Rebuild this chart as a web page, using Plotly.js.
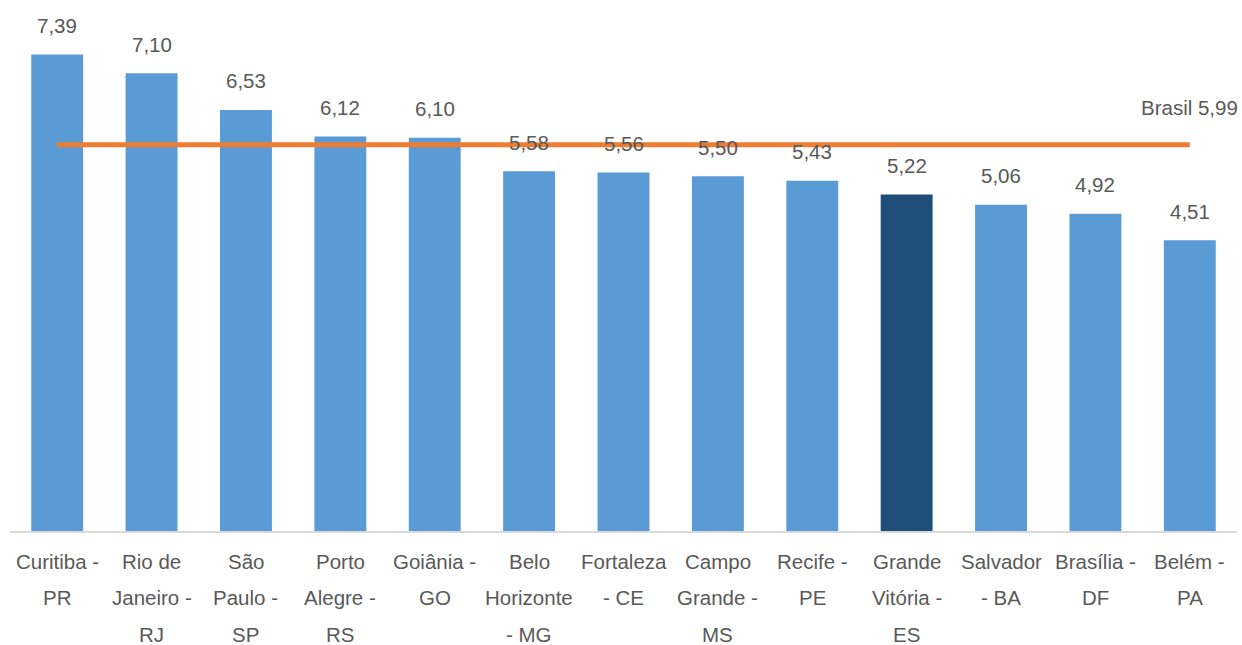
<!DOCTYPE html>
<html>
<head>
<meta charset="utf-8">
<script src="https://cdn.plot.ly/plotly-3.0.1.min.js"></script>
<style>html,body{margin:0;padding:0;background:#fff;}#chart{width:1242px;height:645px;}</style>
</head>
<body>
<div id="chart"></div>
<script>
const labelLines = [
  ["Curitiba -", "PR"],
  ["Rio de", "Janeiro -", "RJ"],
  ["São", "Paulo -", "SP"],
  ["Porto", "Alegre -", "RS"],
  ["Goiânia -", "GO"],
  ["Belo", "Horizonte", "- MG"],
  ["Fortaleza", "- CE"],
  ["Campo", "Grande -", "MS"],
  ["Recife -", "PE"],
  ["Grande", "Vitória -", "ES"],
  ["Salvador", "- BA"],
  ["Brasília -", "DF"],
  ["Belém -", "PA"]
];
const values = [7.39, 7.10, 6.53, 6.12, 6.10, 5.58, 5.56, 5.50, 5.43, 5.22, 5.06, 4.92, 4.51];
const brasilValue = 5.99;
const brasilLabel = "Brasil";
const highlightIndex = 9; // Grande Vitória - ES

const categories = labelLines.map(l => l.join(" "));
const fmt = v => v.toFixed(2).replace(".", ",");

const textColor = "#595959";
const font = {family: "Liberation Sans, Arial, sans-serif", size: 20.5, color: textColor};

const barColors = values.map((v, i) => i === highlightIndex ? "#1F4E79" : "#5B9BD5");

const traces = [
  {
    type: "bar", x: categories, y: values,
    marker: {color: barColors},
    width: 0.55, hoverinfo: "skip"
  },
  {
    type: "scatter", mode: "lines", x: categories,
    y: categories.map(() => brasilValue),
    line: {color: "#ED7D31", width: 5}, hoverinfo: "skip"
  }
];

const annotations = [];
values.forEach((v, i) => {
  annotations.push({
    x: categories[i], y: v, xref: "x", yref: "y",
    text: fmt(v), showarrow: false, yanchor: "middle", yshift: 29, font: font
  });
});
labelLines.forEach((lines, i) => {
  lines.forEach((t, j) => {
    annotations.push({
      x: categories[i], y: 0, xref: "x", yref: "paper",
      text: t, showarrow: false, yanchor: "middle", yshift: -30 - 36.5 * j,
      borderpad: 0, font: font
    });
  });
});
annotations.push({
  x: 1, y: brasilValue, xref: "paper", yref: "y",
  text: brasilLabel + " " + fmt(brasilValue), showarrow: false,
  xanchor: "right", yanchor: "middle", xshift: 3, yshift: 37, font: font
});

const layout = {
  width: 1242, height: 645,
  margin: {l: 10, r: 5, t: 10, b: 114},
  paper_bgcolor: "#fff", plot_bgcolor: "#fff",
  showlegend: false,
  bargap: 0.45,
  xaxis: {
    type: "category", showticklabels: false, ticks: "",
    showline: true, linecolor: "#D9D9D9", linewidth: 1.5,
    showgrid: false, zeroline: false, fixedrange: true
  },
  yaxis: {
    range: [0, 8.08], visible: false, showgrid: false, zeroline: false, fixedrange: true
  },
  annotations: annotations
};

Plotly.newPlot("chart", traces, layout, {displayModeBar: false, staticPlot: true});
</script>
</body>
</html>
